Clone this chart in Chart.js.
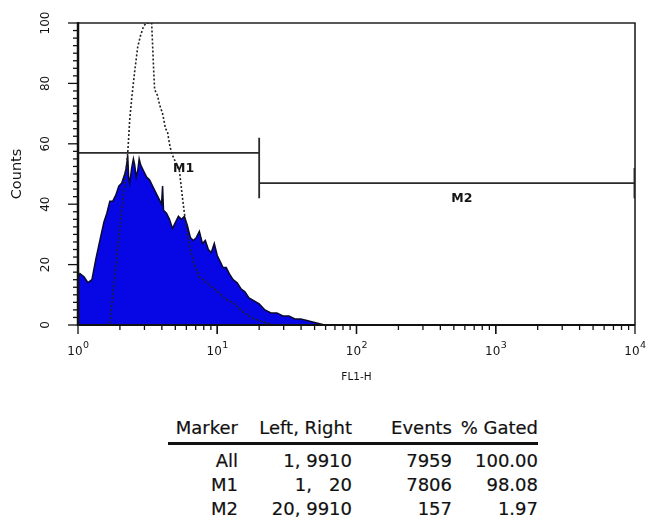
<!DOCTYPE html>
<html>
<head>
<meta charset="utf-8">
<script src="https://cdn.jsdelivr.net/npm/chart.js@4.4.1/dist/chart.umd.min.js"></script>
<style>
  html, body { margin: 0; padding: 0; background: #ffffff; }
  #wrap { position: relative; width: 649px; height: 528px; overflow: hidden; }
  #c { position: absolute; left: 0; top: 0; }
  #stats { position: absolute; left: 168px; top: 412px; border-collapse: collapse; table-layout: fixed;
           font-family: "DejaVu Sans", "Liberation Sans", Arial, sans-serif; font-size: 18px; color: #111;
           -webkit-text-stroke: 0.2px #111; }
  #stats td, #stats th { padding: 0; text-align: right; height: 24px; font-weight: normal; white-space: pre; vertical-align: middle; }
  #stats thead th { border-bottom: 3px solid #111; height: 30px; }
  #stats tbody tr:first-child td { padding-top: 3px; }
</style>
</head>
<body>
<div id="wrap">
  <canvas id="c" width="649" height="400"></canvas>
  <table id="stats">
    <colgroup><col style="width:70px"><col style="width:114px"><col style="width:100px"><col style="width:86px"></colgroup>
    <thead><tr id="hdr"></tr></thead>
    <tbody id="rows"></tbody>
  </table>
</div>
<script>
// ---- data ----
const fl1Channels = [1.00, 1.033, 1.104, 1.179, 1.259, 1.345, 1.436, 1.534, 1.611, 1.693,
  1.778, 1.868, 1.963, 2.062, 2.166, 2.22, 2.276, 2.31, 2.352, 2.43,
  2.50, 2.553, 2.62, 2.683, 2.75, 2.818, 2.961, 3.11, 3.268, 3.433,
  3.607, 3.79, 3.981, 4.05, 4.113, 4.32, 4.54, 4.77, 5.01, 5.26,
  5.53, 5.81, 6.10, 6.41, 6.74, 7.08, 7.44, 7.82, 8.21, 8.63,
  9.06, 9.52, 10.0, 10.5, 11.0, 11.6, 12.2, 13.0, 13.9, 14.8,
  15.8, 16.9, 18.4, 20.0, 22.0, 24.3, 26.8, 29.6, 32.7, 36.1,
  39.8, 44.0, 48.5, 53.5, 59.1];
const sampleCounts = [16, 17, 16, 14, 15, 22, 28, 34, 37, 41,
  41, 43, 46, 47, 50, 52, 56, 49, 47, 52,
  55, 53, 49, 51, 55, 53, 51, 49, 48, 46,
  44, 42, 40, 46, 38, 37, 35, 32, 34, 36,
  35, 36, 33, 29, 28, 29, 31, 27, 28, 25,
  24, 27, 23, 21, 19, 19, 17, 15, 14, 12,
  11, 9, 8, 7, 5, 4, 4, 3, 3, 2,
  2, 1.5, 1, 0.5, 0];

const controlChannels = [1.585, 1.693, 1.778, 1.868, 1.963, 2.062, 2.166, 2.276, 2.352, 2.43,
  2.553, 2.683, 2.818, 2.961, 3.11, 3.268, 3.38, 3.49, 3.55, 3.72,
  3.85, 4.05, 4.25, 4.39, 4.54, 4.69, 5.01, 5.35, 5.63, 5.81,
  6.10, 6.41, 6.85, 7.44, 8.36, 9.52, 11.2, 13.2, 15.6, 18.4, 21.6, 25.5];
const controlCounts = [0, 1, 10, 19, 29, 38, 47, 57, 68, 75,
  84, 92, 96, 99, 100, 100, 100, 85, 78, 76,
  73, 70, 65, 64, 60, 57, 54, 51, 42, 37,
  30, 25, 20, 16, 14, 12, 9, 7, 4, 2, 1, 0];

const markerNames = ['M1', 'M2'];
const markerLeft = [1, 20];
const markerRight = [20, 9910];
const markerLevel = [57, 47];

const xTickValues = [1, 10, 100, 1000, 10000];
const xTickBase = '10';
const xTickExponents = ['0', '1', '2', '3', '4'];
const yTickValues = [0, 20, 40, 60, 80, 100];

const statHeaders = ['Marker', 'Left, Right', 'Events', '% Gated'];
const statMarkers = ['All', 'M1', 'M2'];
const statLeftRight = ['1, 9910', '1,   20', '20, 9910'];
const statEvents = ['7959', '7806', '157'];
const statGated = ['100.00', '98.08', '1.97'];

// ---- table ----
const hdr = document.getElementById('hdr');
statHeaders.forEach(h => { const th = document.createElement('th'); th.textContent = h; hdr.appendChild(th); });
const rows = document.getElementById('rows');
statMarkers.forEach((m, i) => {
  const tr = document.createElement('tr');
  [m, statLeftRight[i], statEvents[i], statGated[i]].forEach(v => {
    const td = document.createElement('td'); td.textContent = v; tr.appendChild(td);
  });
  rows.appendChild(tr);
});

// ---- chart ----
const FONT = '"DejaVu Sans", "Liberation Sans", Arial, sans-serif';
const sampleData = fl1Channels.map((x, i) => ({ x: x, y: sampleCounts[i] }));
const controlData = controlChannels.map((x, i) => ({ x: x, y: controlCounts[i] }));
const END = 5; // half height of marker end bars, in counts
const markerSets = markerNames.map((n, i) => ({
  label: n,
  data: [
    { x: markerLeft[i], y: markerLevel[i] - END }, { x: markerLeft[i], y: markerLevel[i] + END },
    { x: markerLeft[i], y: markerLevel[i] }, { x: markerRight[i], y: markerLevel[i] },
    { x: markerRight[i], y: markerLevel[i] + END }, { x: markerRight[i], y: markerLevel[i] - END }
  ],
  showLine: true, borderColor: '#2a2a2a', borderWidth: 1.8, pointRadius: 0, fill: false, tension: 0, order: 0
}));

const framePlugin = {
  id: 'frame',
  afterDraw(chart) {
    const ctx = chart.ctx, a = chart.chartArea;
    const xs = chart.scales.x, ys = chart.scales.y;
    ctx.save();
    ctx.strokeStyle = '#222';
    ctx.lineWidth = 1.6;
    ctx.beginPath();
    ctx.moveTo(a.left, a.top); ctx.lineTo(a.right, a.top); ctx.lineTo(a.right, a.bottom);
    ctx.stroke();
    ctx.strokeStyle = '#111';
    ctx.lineWidth = 2.5;
    ctx.beginPath(); ctx.moveTo(a.left, a.top - 1); ctx.lineTo(a.left, a.bottom + 1); ctx.stroke();
    ctx.lineWidth = 2;
    ctx.beginPath(); ctx.moveTo(a.left, a.bottom); ctx.lineTo(a.right, a.bottom); ctx.stroke();
    // x ticks (log minor + decade)
    ctx.lineWidth = 1.3;
    for (let d = 1; d < 10000; d *= 10) {
      for (let k = 1; k <= 10; k++) {
        const v = d * k;
        const px = xs.getPixelForValue(v);
        const len = (k === 1 || k === 10) ? 9 : 5;
        ctx.beginPath(); ctx.moveTo(px, a.bottom); ctx.lineTo(px, a.bottom + len); ctx.stroke();
      }
    }
    // y ticks
    for (let v = 0; v <= 100; v += 2.5) {
      const py = ys.getPixelForValue(v);
      const len = (v % 20 === 0) ? 10 : 5;
      ctx.beginPath(); ctx.moveTo(a.left, py); ctx.lineTo(a.left - len, py); ctx.stroke();
    }
    ctx.fillStyle = '#151515';
    // y tick labels, rotated
    ctx.font = '12px ' + FONT;
    ctx.textAlign = 'center'; ctx.textBaseline = 'middle';
    yTickValues.forEach(v => {
      ctx.save();
      ctx.translate(46, ys.getPixelForValue(v));
      ctx.rotate(-Math.PI / 2);
      ctx.fillText(String(v), 0, 0);
      ctx.restore();
    });
    // x tick labels with superscript exponents
    xTickValues.forEach((v, i) => {
      const px = xs.getPixelForValue(v);
      ctx.font = '12px ' + FONT;
      const wb = ctx.measureText(xTickBase).width;
      ctx.font = '9.5px ' + FONT;
      const we = ctx.measureText(xTickExponents[i]).width;
      const x0 = px - (wb + we) / 2;
      ctx.textAlign = 'left'; ctx.textBaseline = 'alphabetic';
      ctx.font = '12px ' + FONT;
      ctx.fillText(xTickBase, x0, a.bottom + 30);
      ctx.font = '9.5px ' + FONT;
      ctx.fillText(xTickExponents[i], x0 + wb + 0.5, a.bottom + 23);
    });
    // marker labels
    ctx.font = 'bold 12.5px ' + FONT;
    ctx.textAlign = 'center'; ctx.textBaseline = 'middle';
    markerNames.forEach((n, i) => {
      const px = (xs.getPixelForValue(markerLeft[i]) + xs.getPixelForValue(markerRight[i])) / 2 + 15;
      const py = ys.getPixelForValue(markerLevel[i]) + 16;
      ctx.fillText(n, px, py);
    });
    ctx.restore();
  }
};

new Chart(document.getElementById('c'), {
  type: 'scatter',
  data: {
    datasets: [
      ...markerSets,
      { label: 'control', data: controlData, showLine: true, borderColor: '#222', borderWidth: 1.6,
        borderDash: [2, 2], pointRadius: 0, fill: false, tension: 0, order: 1 },
      { label: 'sample', data: sampleData, showLine: true, borderColor: '#0a0a30', borderWidth: 1.5,
        backgroundColor: '#0707e6', pointRadius: 0, fill: 'origin', tension: 0, order: 2 }
    ]
  },
  options: {
    responsive: false,
    animation: false,
    layout: { padding: { top: 23, right: 14, left: 0, bottom: 0 } },
    plugins: { legend: { display: false }, tooltip: { enabled: false } },
    scales: {
      x: {
        type: 'logarithmic', min: 1, max: 10000,
        afterBuildTicks: s => { s.ticks = xTickValues.map(v => ({ value: v })); },
        afterFit: s => { s.height = 75; s.paddingLeft = 0; s.paddingRight = 0; },
        grid: { display: false }, border: { display: false },
        ticks: { display: false },
        title: { display: true, text: 'FL1-H', color: '#151515', font: { family: FONT, size: 10.5 },
                 padding: { top: 0, bottom: 16 } }
      },
      y: {
        type: 'linear', min: 0, max: 100,
        afterFit: s => { s.width = 78; s.paddingTop = 0; s.paddingBottom = 0; },
        grid: { display: false }, border: { display: false },
        ticks: { display: false },
        title: { display: true, text: 'Counts', color: '#151515', font: { family: FONT, size: 14.5 },
                 padding: { top: 9, bottom: 0 } }
      }
    }
  },
  plugins: [framePlugin]
});
</script>
</body>
</html>
